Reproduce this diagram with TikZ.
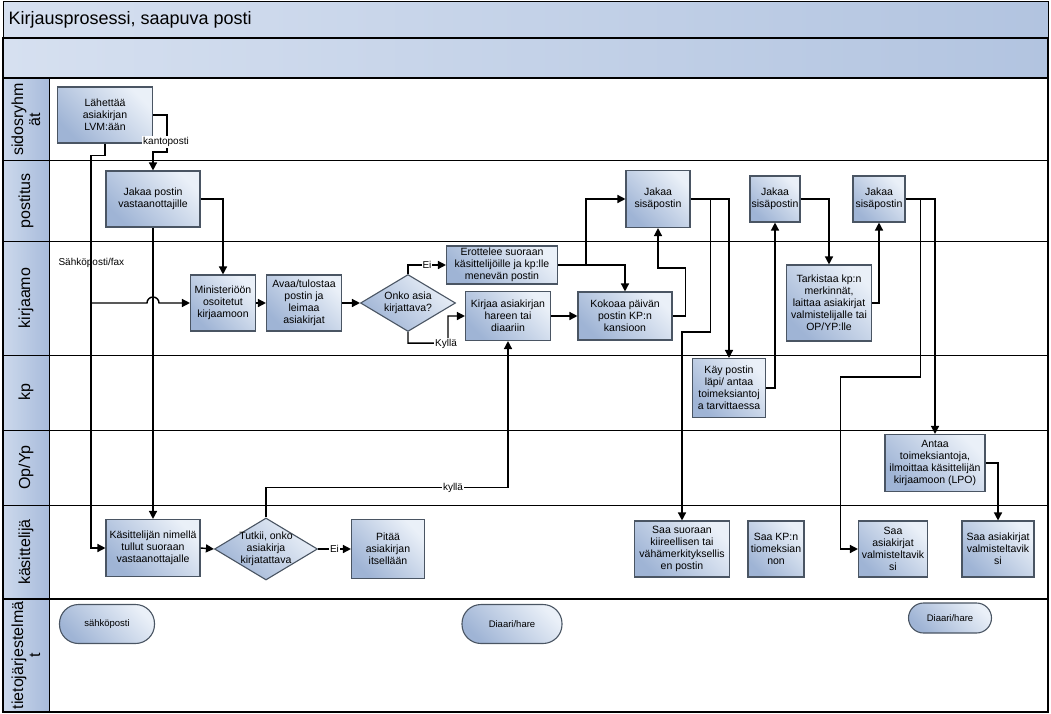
\documentclass[tikz,border=0pt]{standalone}
\usepackage{fontspec}
\setmainfont{Liberation Sans}
\usetikzlibrary{arrows.meta,shapes.geometric}
\definecolor{boxlight}{HTML}{EAF0F8}
\definecolor{boxdark}{HTML}{9FB4D5}
\definecolor{boxedge}{HTML}{4A5563}
\definecolor{lanelight}{HTML}{CCD9EC}
\definecolor{lanedark}{HTML}{A8BBDB}
\definecolor{bandlight}{HTML}{D6E0F0}
\definecolor{banddark}{HTML}{B2C4E0}
\begin{document}
\begin{tikzpicture}[x=1pt,y=-1pt,
    box/.style={draw=boxedge, line width=1.1pt, top color=boxlight, bottom color=boxdark,
      shading angle=-45, align=center, inner sep=1pt, font=\fontsize{10.5}{12}\selectfont},
    decision/.style={diamond, draw=boxedge, line width=1.1pt, top color=boxlight,
      bottom color=boxdark, shading angle=-45, inner sep=0pt},
    dtext/.style={align=center, font=\fontsize{10.5}{12}\selectfont},
    terminal/.style={draw=boxedge, line width=1.1pt, top color=boxlight, bottom color=boxdark,
      shading angle=-45, font=\fontsize{9.5}{11}\selectfont},
    lanetext/.style={rotate=90, align=center, font=\fontsize{16}{17}\selectfont},
    elabel/.style={fill=white, inner sep=1pt, font=\fontsize{10}{12}\selectfont},
    conn/.style={line width=1.4pt},
    flow/.style={line width=1.4pt, -{Triangle[length=8pt,width=8pt]}}]
  \useasboundingbox (0,0) rectangle (1051,714);
  % title bands
  \shade[left color=bandlight, right color=banddark] (3,2) rectangle (1048,38);
  \draw[line width=1pt] (3,2) rectangle (1048,38);
  \node[anchor=west, font=\fontsize{18}{20}\selectfont] (title) at (5,20) {Kirjausprosessi, saapuva posti};
  \shade[left color=bandlight, right color=banddark] (3,38) rectangle (1048,78);
  \draw[line width=2.5pt] (3,38) rectangle (1048,78);
  % lanes
  \shade[left color=lanelight, right color=lanedark] (3,78) rectangle (49,712);
  \draw[line width=1pt] (3,161) -- (1048,161);
  \draw[line width=1pt] (3,241) -- (1048,241);
  \draw[line width=1pt] (3,355) -- (1048,355);
  \draw[line width=1pt] (3,430) -- (1048,430);
  \draw[line width=1pt] (3,505) -- (1048,505);
  \draw[line width=2pt] (3,599) -- (1048,599);
  \draw[line width=1pt] (49,78) -- (49,712);
  \draw[line width=1.5pt] (3,78) rectangle (1048,712);
  \node[lanetext] (lsidos) at (26,119.5) {sidosryhm\\ät};
  \node[lanetext] (lpostitus) at (26,201) {postitus};
  \node[lanetext] (lkirjaamo) at (26,298) {kirjaamo};
  \node[lanetext] (lkp) at (26,392.5) {kp};
  \node[lanetext] (lopyp) at (26,467.5) {Op/Yp};
  \node[lanetext] (lkasittelija) at (26,552) {käsittelijä};
  \node[lanetext] (ltieto) at (26,655.5) {tietojärjestelmä\\t};

  % steps
  \node[box, minimum width=95pt, minimum height=56pt] (lahettaa) at (105,115) {Lähettää\\asiakirjan\\LVM:ään};
  \node[box, minimum width=94pt, minimum height=56pt] (jakaapostin) at (153,199) {Jakaa postin\\vastaanottajille};
  \node[box, minimum width=65pt, minimum height=56pt] (ministerioon) at (223,303) {Ministeriöön\\osoitetut\\kirjaamoon};
  \node[box, minimum width=75pt, minimum height=56pt] (avaa) at (304,303) {Avaa/tulostaa\\postin ja\\leimaa\\asiakirjat};
  \node[decision, minimum width=95pt, minimum height=57pt,
    label={[dtext]center:Onko asia\\kirjattava?}] (onko) at (408,303) {};
  \node[box, minimum width=111pt, minimum height=38pt] (erottelee) at (502,265) {Erottelee suoraan\\käsittelijöille ja kp:lle\\menevän postin};
  \node[box, minimum width=85pt, minimum height=49pt] (kirjaa) at (508,316) {Kirjaa asiakirjan\\hareen tai\\diaariin};
  \node[box, minimum width=94pt, minimum height=48pt] (kokoaa) at (625,316) {Kokoaa päivän\\postin KP:n\\kansioon};
  \node[box, minimum width=64pt, minimum height=57pt] (jakaa1) at (658,199) {Jakaa\\sisäpostin};
  \node[box, minimum width=50pt, minimum height=46pt] (jakaa2) at (775,199) {Jakaa\\sisäpostin};
  \node[box, minimum width=52pt, minimum height=46pt] (jakaa3) at (879,199) {Jakaa\\sisäpostin};
  \node[box, minimum width=85pt, minimum height=76pt] (tarkistaa) at (829,303) {Tarkistaa kp:n\\merkinnät,\\laittaa asiakirjat\\valmistelijalle tai\\OP/YP:lle};
  \node[box, minimum width=73pt, minimum height=59pt] (kay) at (729,388) {Käy postin\\läpi/ antaa\\toimeksiantoj\\a tarvittaessa};
  \node[box, minimum width=100pt, minimum height=57pt] (antaa) at (935,463) {Antaa\\toimeksiantoja,\\ilmoittaa käsittelijän\\kirjaamoon (LPO)};
  \node[box, minimum width=94pt, minimum height=57pt] (kasittelijan) at (153,548) {Käsittelijän nimellä\\tullut suoraan\\vastaanottajalle};
  \node[decision, minimum width=103pt, minimum height=62pt,
    label={[dtext]center:Tutkii, onko\\asiakirja\\kirjatattava}] (tutkii) at (266,549) {};
  \node[box, minimum width=73pt, minimum height=59pt] (pitaa) at (388,549) {Pitää\\asiakirjan\\itsellään};
  \node[box, minimum width=95pt, minimum height=56pt] (saasuoraan) at (682,549) {Saa suoraan\\kiireellisen tai\\vähämerkityksellis\\en postin};
  \node[box, minimum width=56pt, minimum height=56pt] (saakp) at (776,549) {Saa KP:n\\tiomeksian\\non};
  \node[box, minimum width=69pt, minimum height=56pt] (saa1) at (893,549) {Saa\\asiakirjat\\valmisteltavik\\si};
  \node[box, minimum width=72pt, minimum height=56pt] (saa2) at (998,549) {Saa asiakirjat\\valmisteltavik\\si};
  % systems
  \node[terminal, minimum width=95pt, minimum height=39pt, rounded corners=19pt] (sahkoposti) at (107,624) {sähköposti};
  \node[terminal, minimum width=100pt, minimum height=39pt, rounded corners=19pt] (diaari1) at (512,624) {Diaari/hare};
  \node[terminal, minimum width=83pt, minimum height=30pt, rounded corners=15pt] (diaari2) at (950,618) {Diaari/hare};

  % connectors
  \draw[flow] (lahettaa.east) -| ++(14,37) -| (jakaapostin.north);
  \node[elabel] (kanto) at (166,142) {kantoposti};
  \coordinate (fork) at (91,303);
  \coordinate (jump) at (jakaapostin.south |- fork);
  \draw[conn] (lahettaa.south) -- ++(0,12) -| (fork);
  \draw[flow] (fork) -- ([xshift=-6pt]jump) arc[start angle=180, end angle=0, radius=6pt] -- (ministerioon.west);
  \draw[flow] (fork) |- (kasittelijan.west);
  \node[anchor=west, font=\fontsize{10}{12}\selectfont] (fax) at (55,263) {Sähköposti/fax};
  \draw[flow] (jakaapostin.east) -| (ministerioon.north);
  \draw[flow] (jakaapostin.south) -- (kasittelijan.north);
  \draw[flow] (ministerioon.east) -- (avaa.west);
  \draw[flow] (avaa.east) -- (onko.west);
  \draw[flow] (onko.north) |- node[elabel, pos=0.75] {Ei} (erottelee.west);
  \draw[flow] (onko.south) -- ++(0,11) -| ++(40,-27) -- (kirjaa.west);
  \node[elabel] (kylla1) at (446,344) {Kyllä};
  \draw[flow] (kirjaa.east) -- (kokoaa.west);
  \draw[flow] (erottelee.east) -| (kokoaa.north);
  \draw[flow] (erottelee.east) ++(28,0) |- (jakaa1.west);
  \draw[flow] (kokoaa.east) -- ++(13,0) -- ++(0,-48) -| (jakaa1.south);
  \draw[flow] (jakaa1.east) -| (kay.north);
  \draw[flow] (jakaa1.east) ++(20,0) -- ++(0,133) -| (saasuoraan.north);
  \draw[flow] (kay.east) -| (jakaa2.south);
  \draw[flow] (jakaa2.east) -| (tarkistaa.north);
  \draw[flow] (tarkistaa.east) -| (jakaa3.south);
  \draw[flow] (jakaa3.east) -- ++(15,0) -- ++(0,178) -- ++(-80,0) |- (saa1.west);
  \draw[flow] (jakaa3.east) -| (antaa.north);
  \draw[flow] (antaa.east) -| (saa2.north);
  \draw[flow] (kasittelijan.east) -- (tutkii.west);
  \draw[flow] (tutkii.east) -- node[elabel] {Ei} (pitaa.west);
  \draw[flow] (tutkii.north) -- ++(0,-30) -| (kirjaa.south);
  \node[elabel] (kylla2) at (453,488) {kyllä};
\end{tikzpicture}
\end{document}
